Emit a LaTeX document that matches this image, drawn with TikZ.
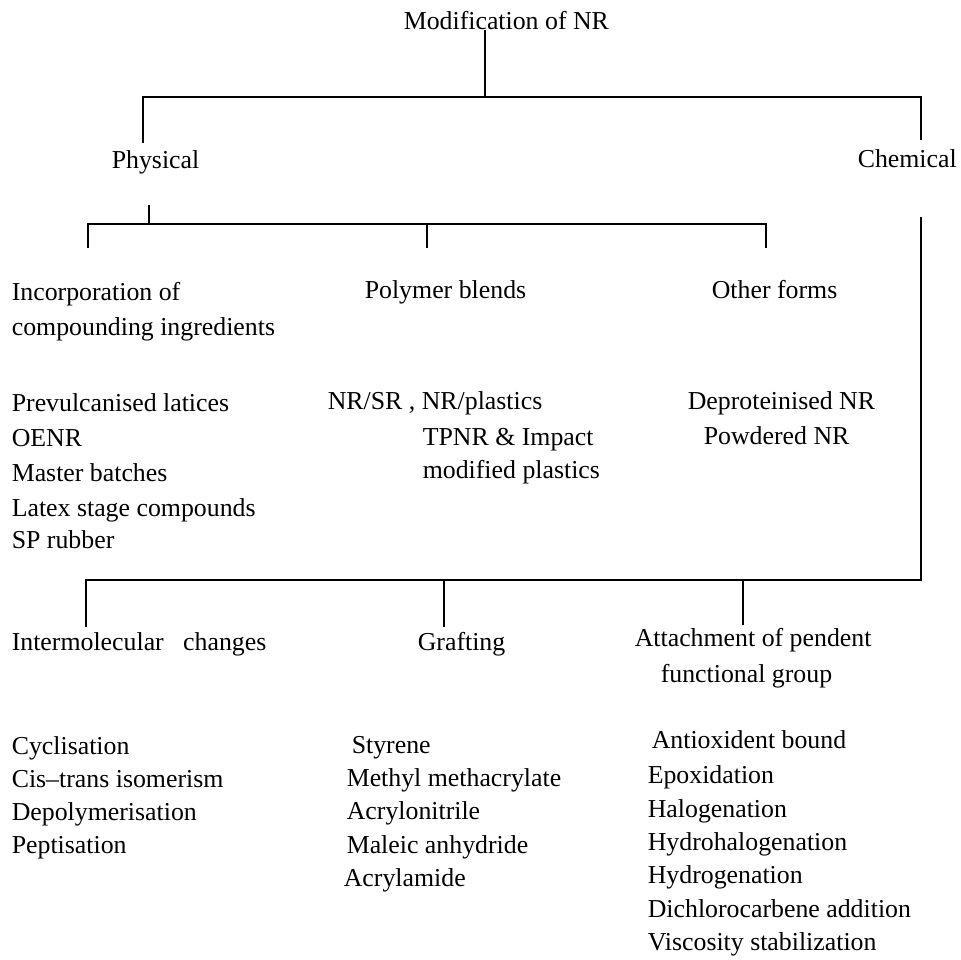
\documentclass[tikz,border=0pt]{standalone}
\usepackage{fontspec}
\setmainfont{Liberation Serif}
\newcommand{\txtsize}{\fontsize{14.7}{17}\selectfont}

\begin{document}
\begin{tikzpicture}[x=0.02cm, y=-0.02cm, line width=0.9pt]
        \tikzstyle{label}=[anchor=base west, inner sep=0, font=\txtsize];
        \useasboundingbox (0,0) rectangle (961,960);

        % headings
        \node[label] (top) at (403,30) {Modification of NR};
        \node[label] (phys) at (111,168) {Physical};
        \node[label] (chem) at (857,167) {Chemical};
        \node[label] (incorp) at (11,300) {Incorporation of};
        \node[label] (incorpB) at (11,335) {compounding ingredients};
        \node[label] (blend) at (364,298) {Polymer blends};
        \node[label] (other) at (711,298) {Other forms};
        \node[label] (inter) at (11,650) {Intermolecular\ \ \ changes};
        \node[label] (graft) at (417,650) {Grafting};
        \node[label] (attach) at (634,646) {Attachment of pendent};
        \node[label] (attachB) at (660,682) {functional group};

        % junctions
        \coordinate (jTop) at (485,97);
        \coordinate (pA) at (143,143);
        \coordinate (cA) at (921,140);
        \coordinate (pB) at (149,205);
        \coordinate (jPhys) at (149,224);
        \coordinate (d1) at (88,248);
        \coordinate (d2) at (427,248);
        \coordinate (d3) at (766,248);
        \coordinate (cB) at (921,217);
        \coordinate (jChem) at (921,580);
        \coordinate (e1) at (86,627);
        \coordinate (e2) at (444,627);
        \coordinate (e3) at (743,625);

        \draw (top.base -| jTop) -- (jTop);
        \draw (pA) -- (pA |- jTop) -- (cA |- jTop) -- (cA);
        \draw (pB) -- (jPhys);
        \draw (d1) -- (d1 |- jPhys) -- (d3 |- jPhys) -- (d3);
        \draw (d2) -- (d2 |- jPhys);
        \draw (cB) -- (jChem) -- (e1 |- jChem) -- (e1);
        \draw (e2) -- (e2 |- jChem);
        \draw (e3) -- (e3 |- jChem);

        % lists
        \foreach \txt/\y [count=\k] in {Prevulcanised latices/411, OENR/446,
            Master batches/481, Latex stage compounds/516, SP rubber/548}{
          \node[label] (inc\k) at (11,\y) {\txt};
        }
        \node[label] (bl1) at (327,409) {NR/SR , NR/plastics};
        \node[label] (bl2) at (422,445) {TPNR \& Impact};
        \node[label] (bl3) at (422,478) {modified plastics};
        \node[label] (oth1) at (687,409) {Deproteinised NR};
        \node[label] (oth2) at (703,444) {Powdered NR};

        \foreach \txt/\y [count=\k] in {Cyclisation/754, Cis--trans isomerism/787,
            Depolymerisation/820, Peptisation/853}{
          \node[label] (int\k) at (11,\y) {\txt};
        }
        \node[label] (gr1) at (351,753) {Styrene};
        \foreach \txt/\y [count=\k from 2] in {Methyl methacrylate/786,
            Acrylonitrile/819, Maleic anhydride/853}{
          \node[label] (gr\k) at (346,\y) {\txt};
        }
        \node[label] (gr5) at (343,886) {Acrylamide};
        \node[label] (att1) at (651,748) {Antioxident bound};
        \foreach \txt/\y [count=\k from 2] in {Epoxidation/783, Halogenation/817,
            Hydrohalogenation/850, Hydrogenation/883,
            Dichlorocarbene addition/917, Viscosity stabilization/950}{
          \node[label] (att\k) at (647,\y) {\txt};
        }
\end{tikzpicture}
\end{document}
